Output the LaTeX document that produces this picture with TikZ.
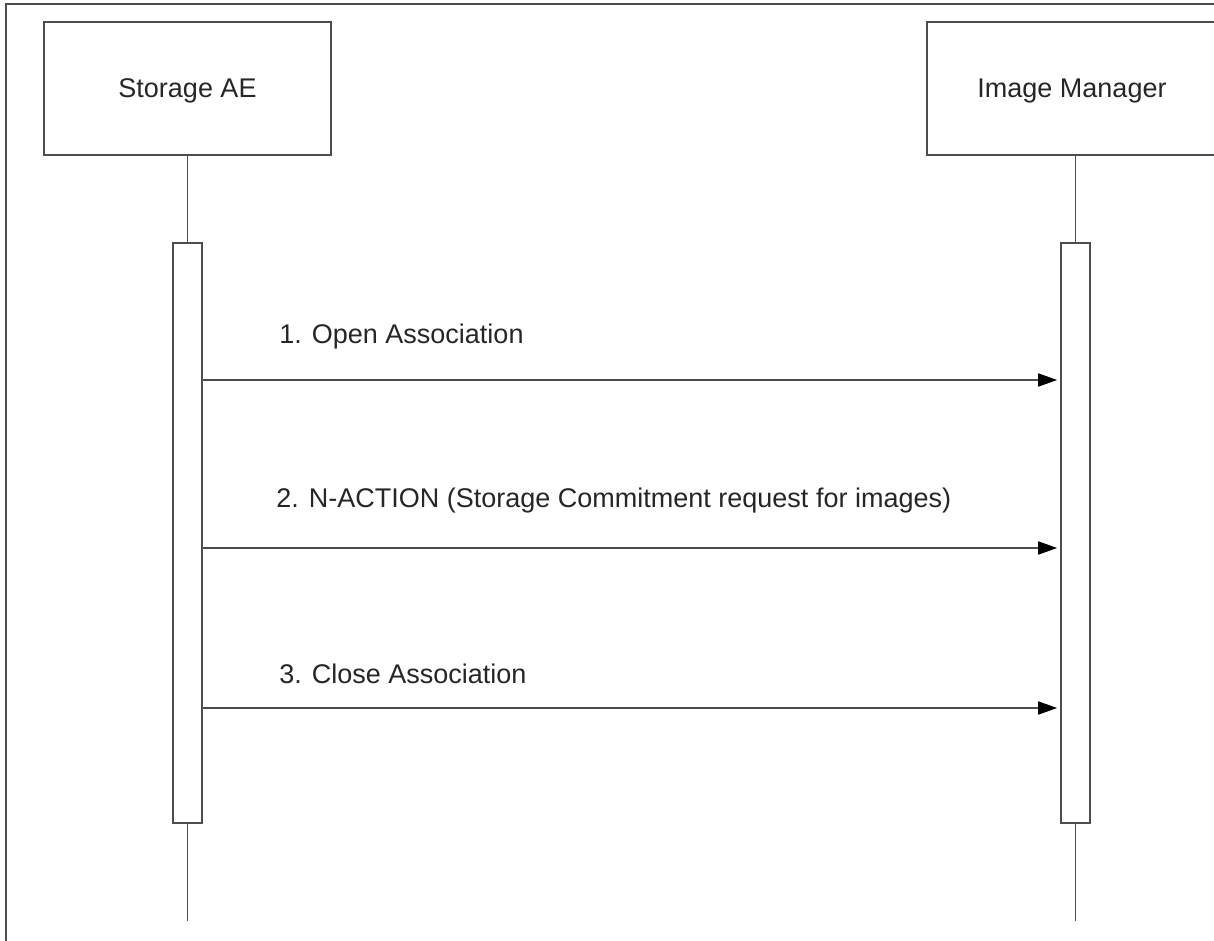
\documentclass[tikz,border=0pt]{standalone}
\usepackage{fontspec}
\setmainfont{Liberation Sans}
\usetikzlibrary{arrows.meta}
\definecolor{lineg}{HTML}{4D4D4D}
\definecolor{textg}{HTML}{262626}

\begin{document}
\begin{tikzpicture}[x=0.5pt, y=-0.5pt, every node/.style={font=\fontsize{13.5}{16}\selectfont, text=textg}, >={Triangle[length=9.5pt, width=6.5pt, color=black]}, ln/.style={draw=lineg, line width=0.8pt}, obj/.style={ln, minimum width=145pt, minimum height=66.5pt, text height=10pt, text depth=1pt}, bar/.style={ln, fill=white, minimum width=14.5pt, minimum height=290pt, inner sep=0pt}, msg/.style={ln, ->, shorten >=1.5pt}, lbl/.style={anchor=base west, inner sep=0pt}]
	\clip (0,0) rectangle (1214,941);
	\draw[ln] (6,941) |- (1214,4);
	\node[obj, minimum width=143.5pt] (sae) at (187.5,88.5) {Storage AE};
	\node[obj] (im) at (1072,88.5) {Image Manager};
	\node[bar] (actL) at (187.5,533) {};
	\node[bar] (actR) at (1075.5,533) {};
	\coordinate (endL) at (187.5,921);
	\coordinate (endR) at (1075.5,921);
	\draw[ln] (sae) -- (actL);
	\draw[ln] (im.south -| actR) -- (actR);
	\foreach \a/\b in {actL/endL, actR/endR} {\draw[ln] (\a) -- (\b);}
	\node[lbl] (l1) at (279,343) {1. Open Association};
	\node[lbl] (l2) at (276,507) {2. N-ACTION (Storage Commitment request for images)};
	\node[lbl] (l3) at (279,683) {3. Close Association};
	\foreach \i/\y in {1/380, 2/548, 3/708} {\coordinate (m\i) at (0,\y); \draw[msg] (actL.east |- m\i) -- (actR.west |- m\i);}
\end{tikzpicture}
\end{document}
